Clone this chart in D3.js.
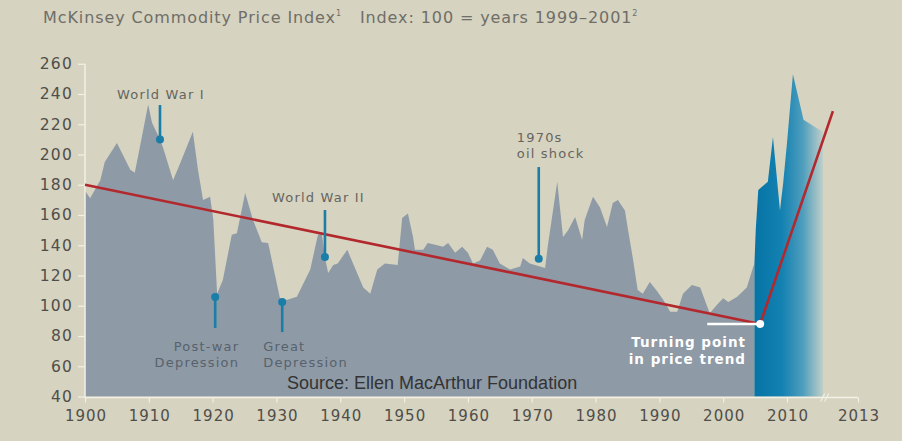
<!DOCTYPE html>
<html>
<head>
<meta charset="utf-8">
<script src="https://cdn.jsdelivr.net/npm/d3@7"></script>
<style>
  html, body { margin: 0; padding: 0; background: #d6d3c0; }
  svg { display: block; }
</style>
</head>
<body>
<svg id="chart" width="902" height="441"></svg>
<script>
// ---- Data ----
const years = [1900.0,1900.8,1902.4,1903.1,1905.0,1907.1,1907.8,1908.6,1909.9,1910.5,1911.4,1912.2,1913.8,1914.9,1916.9,1917.7,1918.5,1919.6,1920.1,1920.7,1921.6,1923.0,1923.8,1925.1,1926.3,1927.7,1928.7,1929.5,1930.6,1931.7,1933.2,1935.3,1936.5,1937.1,1937.6,1938.1,1938.9,1939.6,1941.1,1942.0,1943.6,1944.7,1945.8,1947.0,1949.0,1949.7,1950.6,1951.4,1951.7,1953.0,1953.7,1955.2,1956.1,1956.9,1958.0,1959.1,1960.0,1960.8,1961.9,1963.0,1963.9,1965.0,1966.6,1968.2,1968.6,1969.7,1971.3,1972.1,1972.5,1974.0,1974.9,1975.7,1976.8,1977.9,1978.3,1979.6,1980.7,1981.8,1982.7,1983.5,1984.6,1985.1,1985.9,1986.6,1987.4,1988.5,1989.6,1990.6,1991.7,1992.8,1993.7,1995.1,1996.4,1997.1,1997.9,1999.0,2000.0,2000.8,2002.2,2003.7,2004.7,2004.9];
const values = [176,171,183,195,207.6,190,188,205,233,221,213,205,183,194,215,190,170,172,157,108,117,147,148,174.5,157,142,141.5,125.6,104,104,106,124,147,148,132,121.6,127,128,137,128,112,108,124,128,127,158,161,145.5,137,137,141.5,140,139,141.5,135,139,135,128,130,139,137,128,124,126,131.5,128,126,125,139,182,145.5,150,158.7,143.5,156.7,172,165,152,168,170,163,150,130,110.4,108,115.7,110,104,96,96,108,113.7,112,104,95,100.5,105,102.5,106,112,125.6,128];
const recentYears = [2004.9,2005.1,2005.5,2007.0,2007.8,2008.9,2009.4,2010.0,2010.25,2010.7,2011.2,2011.52];
const recentValues = [128,150,176.5,182,211.5,163,181,207.6,253,223,218,215];
const trendYears = [1900, 2005.8, 2011.94];
const trendValues = [180, 88, 228.7];
const xTicks = [1900,1910,1920,1930,1940,1950,1960,1970,1980,1990,2000,2010,2013];
const yTicks = [40,60,80,100,120,140,160,180,200,220,240,260];
const events = [
  {lines:["World War I"], year:1911.75, value:210, end:232.7},
  {lines:["Post-war","Depression"], year:1920.4, value:105.8, end:85.3},
  {lines:["Great","Depression"], year:1930.9, value:102.5, end:82.6},
  {lines:["World War II"], year:1937.6, value:132.2, end:163.3},
  {lines:["1970s","oil shock"], year:1971.1, value:131, end:191.7}
];
const turningStartYear = 1997.5;

// ---- Scales ----
const svg = d3.select("#chart");
const x = d3.scaleLinear().domain([1900, 2010, 2013]).range([85, 787, 858]);
const y = d3.scaleLinear().domain([40, 260]).range([396.5, 63.75]);

const FONT = "'DejaVu Sans', sans-serif";

// Title
const title = svg.append("text").attr("x", 43).attr("y", 23)
  .attr("font-family", FONT).attr("font-size", 16).attr("letter-spacing", 0.9)
  .attr("fill", "#6f6e68").attr("xml:space", "preserve");
title.append("tspan").text("McKinsey Commodity Price Index");
title.append("tspan").text("1").attr("font-size", 8).attr("dy", -7);
title.append("tspan").text("   Index: 100 = years 1999–2001").attr("dy", 7);
title.append("tspan").text("2").attr("font-size", 8).attr("dy", -7);

// gradient
const defs = svg.append("defs");
const grad = defs.append("linearGradient").attr("id", "blueGrad")
  .attr("gradientUnits", "userSpaceOnUse")
  .attr("x1", x(recentYears[0])).attr("x2", x(recentYears[recentYears.length-1]))
  .attr("y1", 0).attr("y2", 0);
grad.append("stop").attr("offset", "0%").attr("stop-color", "#0574a6");
grad.append("stop").attr("offset", "40%").attr("stop-color", "#1381b1");
grad.append("stop").attr("offset", "70%").attr("stop-color", "#4d9dbd");
grad.append("stop").attr("offset", "100%").attr("stop-color", "#bfcfc8");

// Areas
const area = d3.area().x(d => x(d[0])).y0(y(40)).y1(d => y(d[1]));
svg.append("path").datum(years.map((yr,i)=>[yr, values[i]]))
  .attr("d", area).attr("fill", "#8e9aa6");
svg.append("path").datum(recentYears.map((yr,i)=>[yr, recentValues[i]]))
  .attr("d", area).attr("fill", "url(#blueGrad)");

// Axes
const axisColor = "#f3f1e6";
const yAxis = svg.append("g").attr("transform", `translate(${x(1900)},0)`)
  .call(d3.axisLeft(y).tickValues(yTicks).tickSize(7).tickPadding(5));
yAxis.select(".domain").attr("stroke", axisColor).attr("stroke-width", 1.5).attr("d", `M0,${y(260)}V${y(40)+1}`);
yAxis.selectAll(".tick line").attr("stroke", axisColor).attr("stroke-width", 1.2);
yAxis.selectAll(".tick text").attr("font-family", FONT).attr("font-size", 15.5)
  .attr("letter-spacing", 1.2).attr("fill", "#4f4e4a");

const xAxis = svg.append("g").attr("transform", `translate(0,${y(40)+1})`)
  .call(d3.axisBottom(x).tickValues(xTicks).tickFormat(d3.format("d")).tickSize(5).tickPadding(8));
xAxis.select(".domain").attr("stroke", axisColor).attr("stroke-width", 1.5).attr("d", `M${x(1900)},0H${x(2013)}`);
xAxis.selectAll(".tick line").attr("stroke", axisColor).attr("stroke-width", 1.2);
xAxis.selectAll(".tick text").attr("font-family", FONT).attr("font-size", 15)
  .attr("letter-spacing", 1).attr("dx", 0.5).attr("fill", "#4f4e4a");
// axis break marker
xAxis.append("path").attr("d", `M${x(2011.55)-3},4 l4,-8 M${x(2011.55)+1},4 l4,-8`)
  .attr("stroke", axisColor).attr("stroke-width", 1.2);

// Trend line
const trendPts = trendYears.map((yr,i)=>[x(yr), y(trendValues[i])]);
svg.append("path").attr("d", d3.line()(trendPts))
  .attr("fill", "none").attr("stroke", "#b3282d").attr("stroke-width", 2.6);

// Turning point
svg.append("line").attr("x1", x(turningStartYear)).attr("x2", x(trendYears[1]))
  .attr("y1", y(trendValues[1])).attr("y2", y(trendValues[1]))
  .attr("stroke", "#ffffff").attr("stroke-width", 2.5);
svg.append("circle").attr("cx", x(trendYears[1])).attr("cy", y(trendValues[1])).attr("r", 4)
  .attr("fill", "#ffffff");
const tp = svg.append("text").attr("font-family", FONT).attr("font-weight", "bold")
  .attr("font-size", 13.5).attr("letter-spacing", 1).attr("fill", "#ffffff").attr("text-anchor", "end");
tp.append("tspan").attr("x", 746).attr("y", 347).text("Turning point");
tp.append("tspan").attr("x", 746).attr("y", 364).text("in price trend");

// Events
const evColor = "#1a7ea8";
events.forEach(ev => {
  const cx = x(ev.year), cy = y(ev.value), ey = y(ev.end);
  svg.append("line").attr("x1", cx).attr("x2", cx).attr("y1", cy).attr("y2", ey)
    .attr("stroke", evColor).attr("stroke-width", 2.6);
  svg.append("circle").attr("cx", cx).attr("cy", cy).attr("r", 4).attr("fill", evColor);
});
function label(ev, lx, ly, anchor, color) {
  const t = svg.append("text").attr("font-family", FONT).attr("font-size", 13)
    .attr("letter-spacing", 1.2).attr("fill", color).attr("text-anchor", anchor);
  ev.lines.forEach((l, i) => t.append("tspan").attr("x", lx).attr("y", ly + i*16).text(l));
}
const beigeText = "#66655f", grayText = "#58626c";
label(events[0], x(events[0].year) - 43, y(events[0].end) - 6, "start", beigeText);
label(events[1], x(events[1].year) + 24, y(events[1].end) + 23, "end", grayText);
label(events[2], x(events[2].year) - 19, y(events[2].end) + 19, "start", grayText);
label(events[3], x(events[3].year) - 53, y(events[3].end) - 8, "start", beigeText);
label(events[4], x(events[4].year) - 22, y(events[4].end) - 25, "start", beigeText);

// Source
svg.append("text").attr("x", 287).attr("y", 389)
  .attr("font-family", "'Liberation Sans', Arial, sans-serif").attr("font-size", 18)
  .attr("fill", "#333333").text("Source: Ellen MacArthur Foundation");
</script>
</body>
</html>
